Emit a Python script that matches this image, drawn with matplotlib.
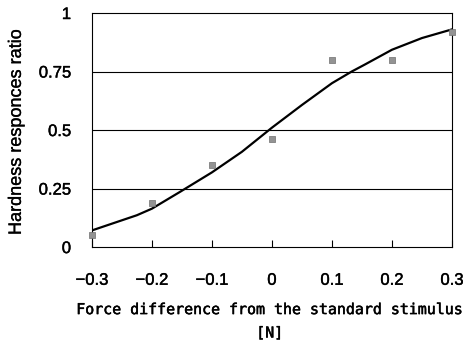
import matplotlib
matplotlib.use("Agg")
import matplotlib.pyplot as plt
import matplotlib.patheffects as pe
import numpy as np

# Data
x_points = [-0.3, -0.2, -0.1, 0.0, 0.1, 0.2, 0.3]
y_points = [0.05, 0.19, 0.35, 0.46, 0.80, 0.80, 0.92]

curve_x = [-0.3, -0.225, -0.2, -0.153, -0.1, -0.05, 0.0, 0.05, 0.1, 0.133, 0.155, 0.2, 0.25, 0.3]
curve_y = [0.071, 0.136, 0.164, 0.236, 0.319, 0.407, 0.51, 0.607, 0.70, 0.75, 0.78, 0.843, 0.893, 0.93]

xticks = [-0.3, -0.2, -0.1, 0.0, 0.1, 0.2, 0.3]
xtick_labels = ["\u22120.3", "\u22120.2", "\u22120.1", "0", "0.1", "0.2", "0.3"]
yticks = [0, 0.25, 0.5, 0.75, 1]
ytick_labels = ["0", "0.25", "0.5", "0.75", "1"]

fig = plt.figure(figsize=(4.64, 3.47), dpi=100)
ax = fig.add_axes([0.198, 0.288, 0.776, 0.6745])

for yv in [0.25, 0.5, 0.75]:
    ax.axhline(yv, color="black", lw=0.8, zorder=1)

ax.plot(curve_x, curve_y, color="black", lw=1.6, zorder=3)
ax.scatter(x_points, y_points, marker="s", s=22, color="#939393", edgecolors="#707070",
           linewidths=0.5, zorder=4, clip_on=False)

bold = [pe.withStroke(linewidth=0.3, foreground="black")]

ax.set_xlim(-0.3, 0.3)
ax.set_ylim(0, 1)
ax.set_xticks(xticks)
ax.set_xticklabels(xtick_labels, fontsize=12, fontfamily="Liberation Sans", path_effects=bold)
ax.set_yticks(yticks)
ax.set_yticklabels(ytick_labels, fontsize=12, fontfamily="Liberation Sans", path_effects=bold)
ax.tick_params(axis="x", direction="in", length=5, width=0.8, pad=18.5)
ax.tick_params(axis="y", length=0, pad=15)
for s in ax.spines.values():
    s.set_linewidth(0.8)

ax.set_ylabel("Hardness responces ratio", fontsize=13.0, fontfamily="Liberation Sans",
              path_effects=[pe.withStroke(linewidth=0.2, foreground="black")])
ax.yaxis.set_label_coords(-0.186, 0.49)
ax.set_xlabel("Force difference from the standard stimulus\n[N]", fontsize=10.75,
              fontfamily="DejaVu Sans Mono", linespacing=1.7,
              path_effects=[pe.withStroke(linewidth=0.35, foreground="black")])
ax.xaxis.set_label_coords(0.494, -0.235)
ax.xaxis.label.set_va("top")

fig.savefig("out.png", dpi=100)
